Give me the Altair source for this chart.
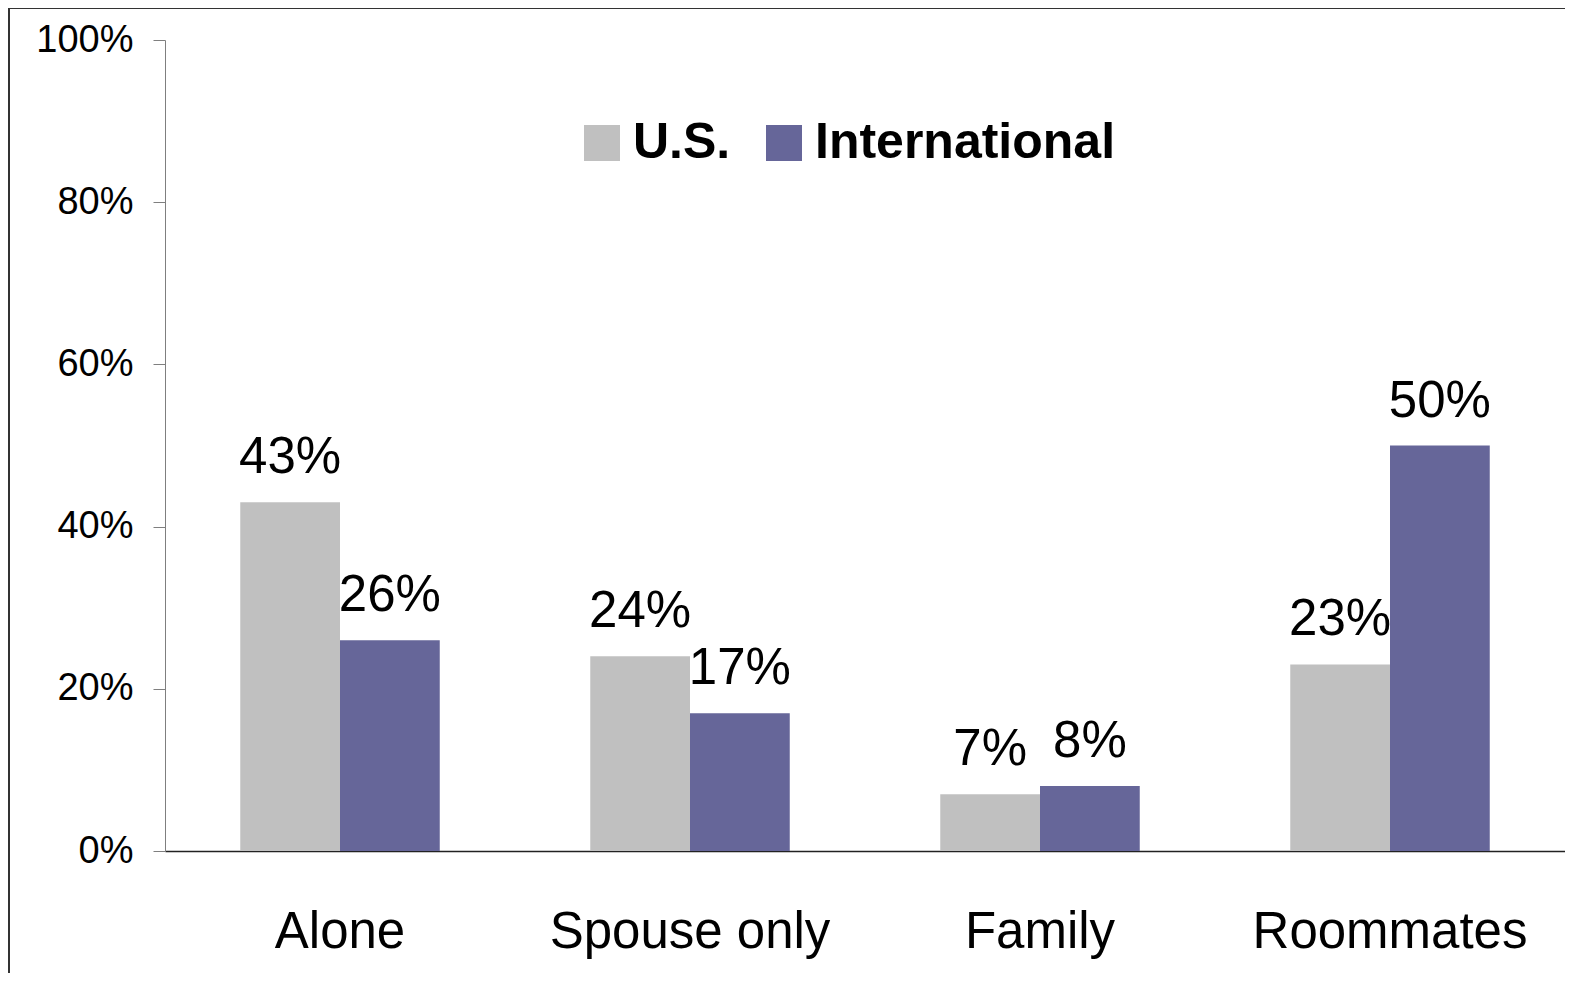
import altair as alt
import pandas as pd

categories = ["Alone", "Spouse only", "Family", "Roommates"]
groups = ["U.S.", "International"]
us_values = [0.43, 0.24, 0.07, 0.23]
intl_values = [0.26, 0.17, 0.08, 0.50]
y_ticks = [0, 0.2, 0.4, 0.6, 0.8, 1.0]
colors = ["#C0C0C0", "#666699"]

rows = []
for c, u, i in zip(categories, us_values, intl_values):
    rows.append({"Category": c, "Group": groups[0], "Value": u})
    rows.append({"Category": c, "Group": groups[1], "Value": i})
df = pd.DataFrame(rows)

FONT = "Liberation Sans"

x_enc = alt.X(
    "Category:N",
    sort=categories,
    scale=alt.Scale(paddingInner=0.43, paddingOuter=0.215),
    axis=alt.Axis(
        title=None,
        labelAngle=0,
        ticks=False,
        tickSize=0,
        labelFontSize=51,
        labelFont=FONT,
        labelColor="#000000",
        labelBaseline="alphabetic",
        labelPadding=96,
        labelLimit=0,
        domainColor="#222222",
        domainWidth=1.5,
    ),
)
xo_enc = alt.XOffset("Group:N", sort=groups, scale=alt.Scale(paddingInner=0, paddingOuter=0))
y_enc = alt.Y(
    "Value:Q",
    scale=alt.Scale(domain=[0, 1], nice=False),
    axis=alt.Axis(
        title=None,
        values=y_ticks,
        format=".0%",
        grid=False,
        tickSize=12,
        tickColor="#7f7f7f",
        domainColor="#7f7f7f",
        labelFontSize=38,
        labelFont=FONT,
        labelColor="#000000",
        labelPadding=20,
    ),
)

base = alt.Chart(df)

bars = base.mark_bar().encode(
    x=x_enc,
    xOffset=xo_enc,
    y=y_enc,
    color=alt.Color(
        "Group:N",
        sort=groups,
        scale=alt.Scale(domain=groups, range=colors),
        legend=alt.Legend(
            title=None,
            orient="none",
            direction="horizontal",
            legendX=412,
            legendY=78,
            padding=0,
            symbolType="square",
            symbolSize=1296,
            symbolStrokeWidth=0,
            labelFontSize=50,
            labelFont=FONT,
            labelFontWeight="bold",
            labelColor="#000000",
            labelOffset=6,
            labelLimit=0,
            columnPadding=28,
        ),
    ),
)

labels = base.mark_text(
    baseline="alphabetic", dy=-29, fontSize=51, font=FONT, color="#000000"
).encode(
    x=alt.X("Category:N", sort=categories),
    xOffset=alt.XOffset("Group:N", sort=groups),
    y="Value:Q",
    text=alt.Text("Value:Q", format=".0%"),
)

frame_df = pd.DataFrame({"k": [0]})
frame_left = alt.Chart(frame_df).mark_rule(color="#333333", strokeWidth=2).encode(
    x=alt.value(-156), y=alt.value(-32), y2=alt.value(960)
)
frame_top = alt.Chart(frame_df).mark_rule(color="#333333", strokeWidth=2).encode(
    x=alt.value(-156), x2=alt.value(1420), y=alt.value(-32)
)

chart = (
    alt.layer(bars, labels, frame_left, frame_top)
    .properties(
        width=1400,
        height=811,
        background="white",
        autosize=alt.AutoSizeParams(type="none"),
        padding={"left": 157, "top": 32, "right": 0, "bottom": 122},
    )
    .configure_view(stroke=None, strokeWidth=0)
)

chart.save("out.html", embed_options={"renderer": "svg", "actions": False})
